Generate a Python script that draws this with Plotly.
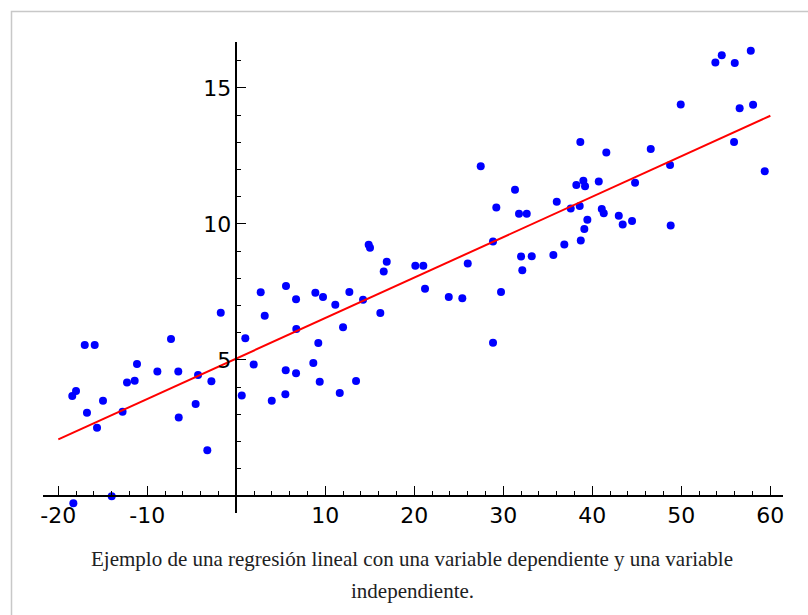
import plotly.graph_objects as go

# Scatter data
x_vals = [-1.75, -17.03, -15.91, -7.34, -11.16, -8.87, -6.52, -4.3, -11.42, -12.28,
          -2.8, -18.01, -18.43, -14.98, -16.78, -12.78, -4.57, -6.47, -15.65, -3.26,
          -14.0, -18.31,
          0.61, 1.01, 1.95, 2.74, 3.19, 3.98, 5.58, 5.55, 5.51, 6.71,
          6.74, 6.71, 8.65, 8.88, 9.74, 9.21, 9.37, 11.12, 11.99, 11.62,
          12.7, 13.45, 14.24, 14.87, 15.02, 16.18, 16.56, 16.9, 20.11, 21.01, 21.2,
          23.87, 25.39, 26.0, 27.46, 28.84, 28.84, 29.21, 29.74, 31.31, 31.76,
          32.63, 31.99, 33.19, 32.13, 35.62, 36.0, 36.85, 37.57, 38.2, 38.65,
          38.58, 38.99, 39.18, 38.7, 39.1, 39.44, 40.72, 41.06, 41.28, 41.57, 42.97,
          43.41, 44.46, 44.8, 46.56, 48.73, 48.8, 49.93, 53.82, 54.54, 56.0,
          57.8, 56.55, 58.06, 55.92, 59.37]
y_vals = [6.74, 5.55, 5.55, 5.77, 4.85, 4.58, 4.58, 4.45, 4.24, 4.17,
          4.22, 3.86, 3.68, 3.5, 3.06, 3.1, 3.38, 2.89, 2.51, 1.68,
          -0.01, -0.27,
          3.69, 5.8, 4.83, 7.49, 6.63, 3.5, 7.72, 4.62, 3.74, 7.23,
          6.14, 4.51, 4.89, 7.47, 7.32, 5.62, 4.2, 7.03, 6.2, 3.79,
          7.5, 4.23, 7.21, 9.24, 9.13, 6.73, 8.25, 8.61, 8.46, 8.46, 7.62,
          7.32, 7.27, 8.55, 12.12, 9.36, 5.63, 10.61, 7.5, 11.26, 10.38,
          10.38, 8.8, 8.81, 8.3, 8.86, 10.82, 9.25, 10.57, 11.43, 13.01,
          10.66, 11.59, 11.39, 9.39, 9.82, 10.16, 11.56, 10.55, 10.39, 12.63, 10.3,
          9.98, 10.11, 11.52, 12.76, 12.17, 9.94, 14.39, 15.94, 16.2, 15.92,
          16.37, 14.25, 14.38, 13.01, 11.94]

# Regression line end points
line_x = [-20, 60]
line_y = [2.08, 13.98]

# Tick labels
x_ticks = [-20, -10, 0, 10, 20, 30, 40, 50, 60]
x_ticktext = ["-20", "-10", "", "10", "20", "30", "40", "50", "60"]
y_ticks = [0, 5, 10, 15]
y_ticktext = ["", "5", "10", "15"]

caption_1 = "Ejemplo de una regresión lineal con una variable dependiente y una variable"
caption_2 = "independiente."

x_range = [-21.72, 61.42]
y_range = [-0.625, 16.69]

fig = go.Figure()
fig.add_trace(go.Scatter(x=x_vals, y=y_vals, mode="markers",
                         marker=dict(color="#0000ff", size=8, line=dict(width=0)),
                         showlegend=False, hoverinfo="skip"))
fig.add_trace(go.Scatter(x=line_x, y=line_y, mode="lines",
                         line=dict(color="#ff0000", width=2),
                         showlegend=False, hoverinfo="skip"))

tick_font = dict(family="DejaVu Sans", size=22, color="#000000")

fig.update_layout(
    width=808, height=615,
    margin=dict(l=43, r=25, t=42, b=102),
    paper_bgcolor="white", plot_bgcolor="white",
    xaxis=dict(range=x_range, showgrid=False, zeroline=False,
               showline=True, linecolor="black", linewidth=1.5,
               anchor="free",
               position=(0 - y_range[0]) / (y_range[1] - y_range[0]),
               tickmode="array", tickvals=x_ticks, ticktext=x_ticktext,
               ticks="inside", ticklen=9, tickwidth=1.3, tickcolor="black",
               minor=dict(ticks="inside", dtick=2, tick0=0, ticklen=4,
                          tickwidth=1.1, tickcolor="black"),
               tickfont=tick_font, fixedrange=True),
    yaxis=dict(range=y_range, showgrid=False, zeroline=False,
               showline=True, linecolor="black", linewidth=1.5,
               anchor="free",
               position=(0 - x_range[0]) / (x_range[1] - x_range[0]),
               tickmode="array", tickvals=y_ticks, ticktext=y_ticktext,
               ticks="inside", ticklen=9, tickwidth=1.3, tickcolor="black",
               minor=dict(ticks="inside", dtick=1, tick0=0, ticklen=4,
                          tickwidth=1.1, tickcolor="black"),
               tickfont=tick_font, fixedrange=True),
    shapes=[dict(type="rect", xref="paper", yref="paper",
                 x0=(11.5 - 43) / 740, x1=1.2,
                 y0=-0.4, y1=(513 - 11.5) / 471,
                 line=dict(color="#c8c8c8", width=1.5), layer="below")],
    annotations=[
        dict(text=caption_1, xref="paper", yref="paper",
             x=(412 - 43) / 740, y=(513 - 559) / 471,
             xanchor="center", yanchor="middle", showarrow=False,
             font=dict(family="Liberation Serif", size=21, color="#202122")),
        dict(text=caption_2, xref="paper", yref="paper",
             x=(412 - 43) / 740, y=(513 - 591) / 471,
             xanchor="center", yanchor="middle", showarrow=False,
             font=dict(family="Liberation Serif", size=21, color="#202122")),
    ],
)

fig.write_html("out.html")
